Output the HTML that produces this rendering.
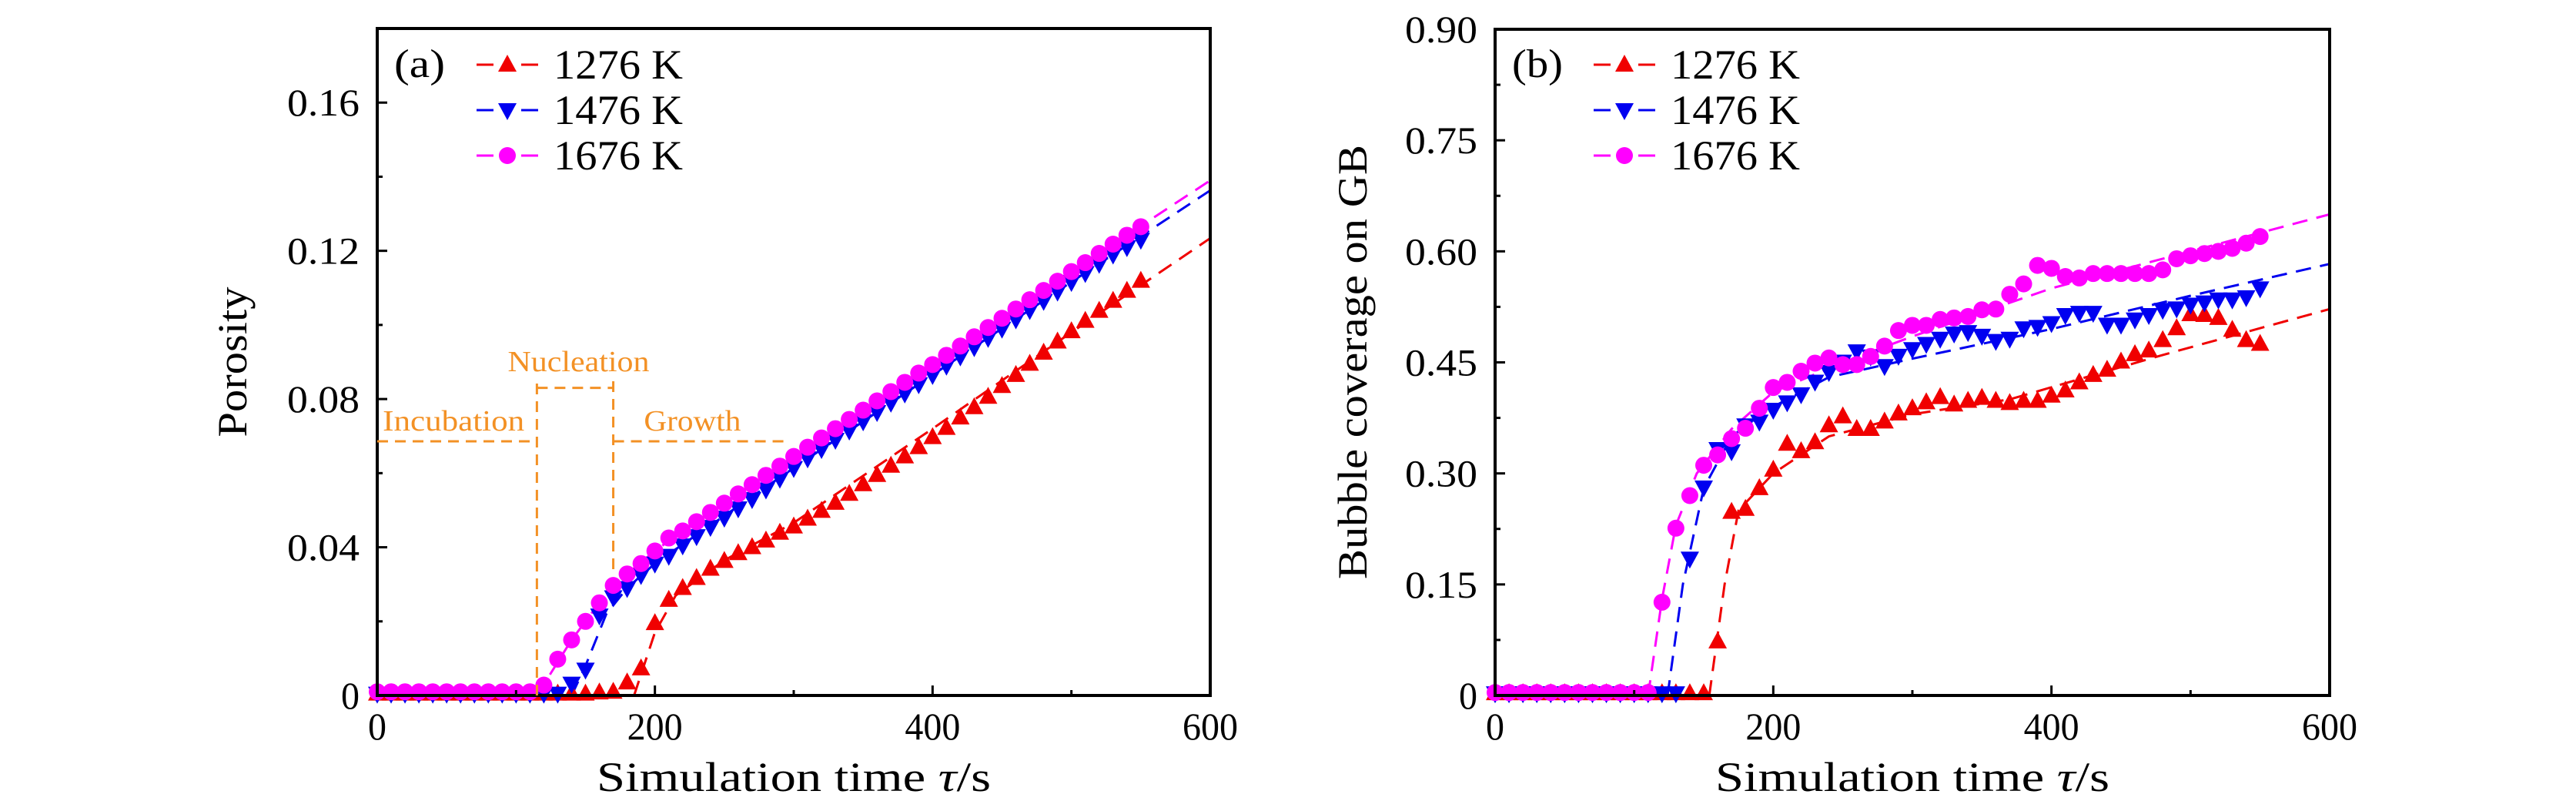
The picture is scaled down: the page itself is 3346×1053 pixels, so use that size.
<!DOCTYPE html>
<html><head><meta charset="utf-8"><style>
html,body{margin:0;padding:0;background:#fff;}
svg{display:block;}
svg text{font-family:"Liberation Serif","DejaVu Serif",serif;}
</style></head><body>
<svg id="fig" width="3346" height="1053" viewBox="0 0 3346 1053" xmlns="http://www.w3.org/2000/svg" font-family="Liberation Serif, DejaVu Serif, serif"></svg>
<script>
const times = [0,10,20,30,40,50,60,70,80,90,100,110,120,130,140,150,160,170,180,190,200,210,220,230,240,250,260,270,280,290,300,310,320,330,340,350,360,370,380,390,400,410,420,430,440,450,460,470,480,490,500,510,520,530,540,550];
const porRed = [0.0005,0.0005,0.0005,0.0005,0.0005,0.0005,0.0005,0.0005,0.0005,0.0005,0.0005,0.0005,0.0005,0.0005,0.0005,0.0005,0.0008,0.001,0.0035,0.0073,0.0195,0.0258,0.029,0.0317,0.0342,0.0363,0.0384,0.040,0.0418,0.0439,0.0456,0.0477,0.0498,0.052,0.0544,0.057,0.0595,0.062,0.0645,0.067,0.0697,0.0722,0.075,0.0778,0.0806,0.0835,0.0865,0.0895,0.0925,0.0955,0.0983,0.1011,0.1038,0.1065,0.1092,0.1119];
const porBlue = [0.0005,0.0005,0.0005,0.0005,0.0005,0.0005,0.0005,0.0005,0.0005,0.0005,0.0005,0.0005,0.0005,0.0005,0.0032,0.007,0.0216,0.0265,0.029,0.0325,0.0356,0.0377,0.0405,0.043,0.0455,0.048,0.0505,0.053,0.0556,0.0585,0.0614,0.064,0.0665,0.069,0.0715,0.074,0.0765,0.079,0.0815,0.084,0.0865,0.089,0.0915,0.094,0.0965,0.099,0.1015,0.104,0.1065,0.109,0.1116,0.114,0.1165,0.119,0.121,0.123];
const porMag = [0.001,0.001,0.001,0.001,0.001,0.001,0.001,0.001,0.001,0.001,0.001,0.001,0.0028,0.0098,0.015,0.020,0.025,0.0297,0.0328,0.0356,0.039,0.0425,0.0444,0.0469,0.0494,0.0519,0.0544,0.0569,0.0594,0.0619,0.0645,0.067,0.0695,0.072,0.0745,0.077,0.0795,0.082,0.0845,0.087,0.0893,0.0918,0.0943,0.0968,0.0993,0.1018,0.1043,0.1068,0.1093,0.1118,0.1144,0.1168,0.1193,0.1218,0.1242,0.1265];
const porFitMag = [[115,0],[125,0.006],[140,0.015],[160,0.025],[180,0.0328],[200,0.039],[220,0.0444],[300,0.0645],[400,0.0893],[500,0.1144],[600,0.139]];
const porFitBlue = [[140,0],[150,0.008],[165,0.022],[180,0.029],[200,0.0356],[300,0.0614],[400,0.0865],[500,0.1116],[600,0.1363]];
const porFitRed = [[185,0],[200,0.017],[215,0.027],[250,0.0365],[300,0.0466],[400,0.072],[500,0.098],[600,0.1234]];
const covRed = [0.003,0.003,0.003,0.003,0.003,0.003,0.003,0.003,0.003,0.003,0.003,0.003,0.003,0.003,0.003,0.003,0.073,0.248,0.252,0.280,0.305,0.340,0.330,0.342,0.365,0.377,0.360,0.360,0.370,0.381,0.388,0.396,0.403,0.393,0.398,0.402,0.398,0.395,0.398,0.398,0.405,0.412,0.423,0.433,0.440,0.451,0.461,0.466,0.480,0.496,0.515,0.514,0.510,0.494,0.480,0.475];
const covBlue = [0.003,0.003,0.003,0.003,0.003,0.003,0.003,0.003,0.003,0.003,0.003,0.003,0.003,0.003,0.185,0.281,0.333,0.330,0.365,0.370,0.386,0.396,0.407,0.424,0.437,0.451,0.465,0.458,0.445,0.459,0.468,0.475,0.482,0.489,0.491,0.486,0.479,0.482,0.496,0.498,0.503,0.514,0.517,0.517,0.501,0.501,0.508,0.514,0.521,0.523,0.528,0.531,0.535,0.535,0.538,0.550];
const covMag = [0.004,0.004,0.004,0.004,0.004,0.004,0.004,0.004,0.004,0.004,0.004,0.004,0.126,0.226,0.270,0.311,0.325,0.347,0.361,0.388,0.416,0.423,0.438,0.449,0.456,0.447,0.447,0.458,0.472,0.493,0.500,0.500,0.508,0.510,0.512,0.521,0.522,0.542,0.556,0.581,0.577,0.566,0.564,0.570,0.570,0.570,0.570,0.570,0.575,0.590,0.594,0.597,0.600,0.604,0.611,0.620];
const covFitMag = [[110,0],[120,0.13],[130,0.23],[145,0.30],[170,0.36],[200,0.41],[250,0.45],[300,0.485],[400,0.55],[500,0.60],[600,0.65]];
const covFitBlue = [[124,0],[135,0.15],[150,0.28],[170,0.35],[200,0.39],[240,0.43],[300,0.455],[400,0.495],[500,0.54],[600,0.583]];
const covFitRed = [[154,0],[165,0.15],[175,0.25],[200,0.30],[240,0.35],[300,0.38],[370,0.40],[480,0.46],[600,0.522]];
const xTicks = [0,200,400,600];
const porTicks = [0,0.04,0.08,0.12,0.16];
const porTickLabels = ["0","0.04","0.08","0.12","0.16"];
const covTicks = [0,0.15,0.30,0.45,0.60,0.75,0.90];
const covTickLabels = ["0","0.15","0.30","0.45","0.60","0.75","0.90"];
const legendLabels = ["1276 K","1476 K","1676 K"];

const NS = "http://www.w3.org/2000/svg";
const svg = document.getElementById("fig");
const RED = "#f00000", BLUE = "#0000f0", MAG = "#ff00ff", ORANGE = "#f39125";
const FF = "Liberation Serif, DejaVu Serif, serif";
function mk(tag, attrs, parent) {
  const e = document.createElementNS(NS, tag);
  for (const k in attrs) e.setAttribute(k, attrs[k]);
  if (tag === "text") e.setAttribute("font-family", FF);
  (parent || svg).appendChild(e);
  return e;
}
function panel(cfg) {
  const g = mk("g", {});
  
  
  const X = t => cfg.x0 + t / 600 * (cfg.x1 - cfg.x0);
  const Y = v => cfg.y1 - v / cfg.ymax * (cfg.y1 - cfg.y0);
  const fits = [[cfg.fitRed, RED, "fit-1276k"], [cfg.fitBlue, BLUE, "fit-1476k"], [cfg.fitMag, MAG, "fit-1676k"]];
  fits.forEach(f => {
    const p = mk("polyline", {points: f[0].map(d => X(d[0]) + "," + Y(d[1])).join(" "), fill: "none", stroke: f[1], "stroke-width": 3, "stroke-dasharray": "20,12"}, g);
    
    
  });
  const series = [[cfg.red, RED, "up", "series-1276k"], [cfg.blue, BLUE, "down", "series-1476k"], [cfg.mag, MAG, "circle", "series-1676k"]];
  series.forEach(s => {
    const sg = mk("g", {fill: s[1]}, g);
    
    
    s[0].forEach((v, i) => {
      const cx = X(times[i]), cy = Y(v);
      let m;
      if (s[2] === "circle") m = mk("circle", {cx: cx, cy: cy, r: 11}, sg);
      else if (s[2] === "up") m = mk("polygon", {points: `${cx},${cy-13} ${cx-12},${cy+9} ${cx+12},${cy+9}`}, sg);
      else m = mk("polygon", {points: `${cx},${cy+13} ${cx-12},${cy-9} ${cx+12},${cy-9}`}, sg);
      
      
    });
  });
  const fr = mk("rect", {x: cfg.x0, y: cfg.y0, width: cfg.x1 - cfg.x0, height: cfg.y1 - cfg.y0, fill: "none", stroke: "#000", "stroke-width": 4}, g);
  
  
  for (let t = 0; t <= 600; t += 100) {
    const len = t % 200 === 0 ? 13 : 7;
    mk("line", {x1: X(t), x2: X(t), y1: cfg.y1, y2: cfg.y1 - len, stroke: "#000", "stroke-width": 3}, g);
  }
  xTicks.forEach(t => {
    const s = String(t);
    const tx = mk("text", {x: X(t), y: 960, "font-size": 50, "text-anchor": "middle", textLength: 24 * s.length, lengthAdjust: "spacingAndGlyphs"}, g);
    tx.textContent = s;
    
    
  });
  for (let i = 0; ; i++) {
    const v = i * cfg.ystep / 2;
    if (v > cfg.ymax + 1e-9) break;
    const len = i % 2 === 0 ? 13 : 7;
    mk("line", {x1: cfg.x0, x2: cfg.x0 + len, y1: Y(v), y2: Y(v), stroke: "#000", "stroke-width": 3}, g);
  }
  cfg.yticks.forEach((v, i) => {
    const s = cfg.ylabels[i];
    const w = s.length === 1 ? 24 : 94;
    const tx = mk("text", {x: cfg.x0 - 23, y: Y(v) + 17, "font-size": 50, "text-anchor": "end", textLength: w, lengthAdjust: "spacingAndGlyphs"}, g);
    tx.textContent = s;
    
    
  });
  const xt = mk("text", {x: (cfg.x0 + cfg.x1) / 2, y: 1027, "font-size": 54, "text-anchor": "middle", textLength: 512, lengthAdjust: "spacingAndGlyphs"}, g);
  xt.innerHTML = 'Simulation time <tspan font-style="italic">τ</tspan>/s';
  
  
  const yt = mk("text", {x: 0, y: 0, "font-size": 54, "text-anchor": "middle", textLength: cfg.ytitleLen, lengthAdjust: "spacingAndGlyphs", transform: `translate(${cfg.ytitleX},470) rotate(-90)`}, g);
  yt.textContent = cfg.ytitle;
  
  
  const pl = mk("text", {x: cfg.x0 + 22, y: 100, "font-size": 52, textLength: 66, lengthAdjust: "spacingAndGlyphs"}, g);
  pl.textContent = cfg.tag;
  
  
  const lg = mk("g", {}, g);
  
  
  const cols = [RED, BLUE, MAG], kinds = ["up", "down", "circle"];
  legendLabels.forEach((lab, i) => {
    const ly = 84 + i * 59, lx = cfg.legX;
    const e = mk("g", {}, lg);
    
    
    mk("line", {x1: lx, x2: lx + 80, y1: ly, y2: ly, stroke: cols[i], "stroke-width": 3, "stroke-dasharray": "22,36"}, e);
    const cx = lx + 40;
    if (kinds[i] === "circle") mk("circle", {cx: cx, cy: ly, r: 11, fill: cols[i]}, e);
    else if (kinds[i] === "up") mk("polygon", {points: `${cx},${ly-13} ${cx-12},${ly+9} ${cx+12},${ly+9}`, fill: cols[i]}, e);
    else mk("polygon", {points: `${cx},${ly+13} ${cx-12},${ly-9} ${cx+12},${ly-9}`, fill: cols[i]}, e);
    const t = mk("text", {x: lx + 100, y: ly + 18, "font-size": 54, textLength: 168, lengthAdjust: "spacingAndGlyphs"}, e);
    t.textContent = lab;
  });
  return {X: X, Y: Y, g: g};
}
const A = panel({name: "porosity-chart", x0: 490, x1: 1572, y0: 37, y1: 903, ymax: 0.18, ystep: 0.04, yticks: porTicks, ylabels: porTickLabels,
  red: porRed, blue: porBlue, mag: porMag, fitRed: porFitRed, fitBlue: porFitBlue, fitMag: porFitMag, ytitle: "Porosity", ytitleX: 320, ytitleLen: 195, tag: "(a)", legX: 619});
const B = panel({name: "coverage-chart", x0: 1942, x1: 3026, y0: 38, y1: 903, ymax: 0.9, ystep: 0.15, yticks: covTicks, ylabels: covTickLabels,
  red: covRed, blue: covBlue, mag: covMag, fitRed: covFitRed, fitBlue: covFitBlue, fitMag: covFitMag, ytitle: "Bubble coverage on GB", ytitleX: 1775, ytitleLen: 564, tag: "(b)", legX: 2070});
const ann = mk("g", {stroke: ORANGE, "stroke-width": 3, "stroke-dasharray": "14,9", fill: "none"}, A.g);


mk("polyline", {points: `${A.X(0)},${A.Y(0.0686)} ${A.X(115)},${A.Y(0.0686)}`}, ann);
mk("polyline", {points: `${A.X(115)},${A.Y(0)} ${A.X(115)},${A.Y(0.0848)}`}, ann);
mk("polyline", {points: `${A.X(115)},${A.Y(0.083)} ${A.X(170)},${A.Y(0.083)}`}, ann);
mk("polyline", {points: `${A.X(170)},${A.Y(0.0848)} ${A.X(170)},${A.Y(0.034)}`}, ann);
mk("polyline", {points: `${A.X(170)},${A.Y(0.0686)} ${A.X(295)},${A.Y(0.0686)}`}, ann);
[["Incubation", 55, 0.0715, "incubation-label", 184], ["Nucleation", 145, 0.0875, "nucleation-label", 184], ["Growth", 227, 0.0715, "growth-label", 126]].forEach(a => {
  const t = mk("text", {x: A.X(a[1]), y: A.Y(a[2]), "font-size": 38, fill: ORANGE, "text-anchor": "middle", textLength: a[4], lengthAdjust: "spacingAndGlyphs"}, A.g);
  t.textContent = a[0];
  
  
});
</script>
</body></html>
